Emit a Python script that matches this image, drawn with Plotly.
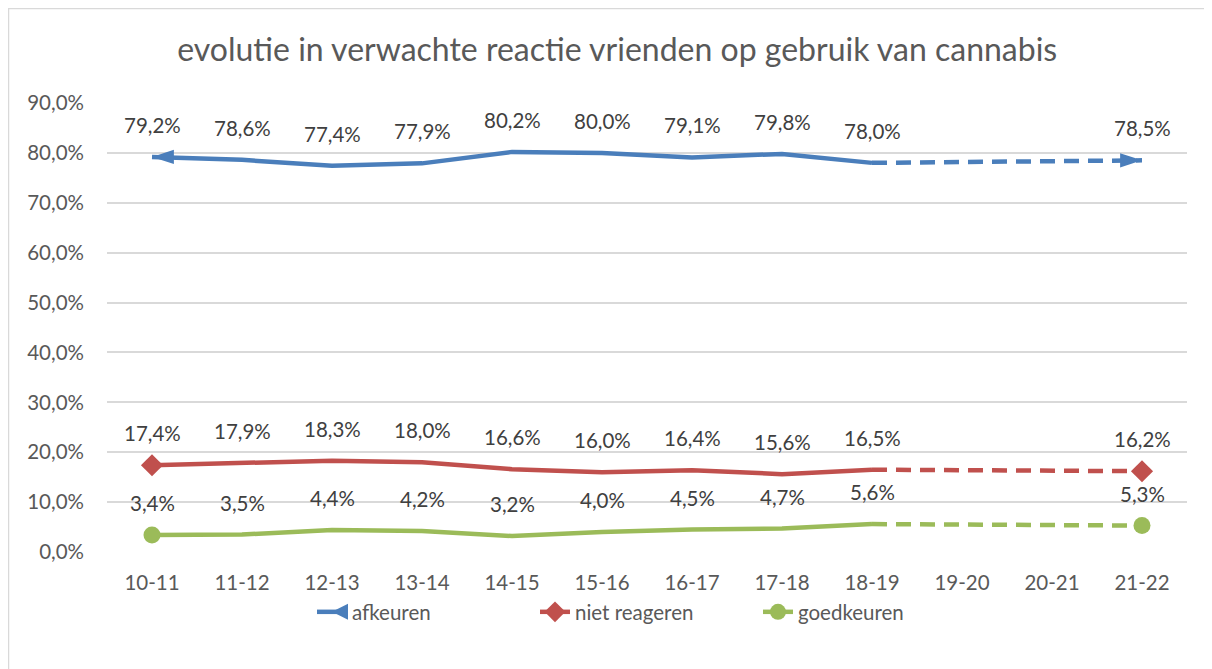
import plotly.graph_objects as go

categories = ["10-11", "11-12", "12-13", "13-14", "14-15", "15-16", "16-17",
              "17-18", "18-19", "19-20", "20-21", "21-22"]
afkeuren = [79.2, 78.6, 77.4, 77.9, 80.2, 80.0, 79.1, 79.8, 78.0, None, None, 78.5]
niet_reageren = [17.4, 17.9, 18.3, 18.0, 16.6, 16.0, 16.4, 15.6, 16.5, None, None, 16.2]
goedkeuren = [3.4, 3.5, 4.4, 4.2, 3.2, 4.0, 4.5, 4.7, 5.6, None, None, 5.3]

series = [
    ("afkeuren", afkeuren, "#4A7EBB", "arrow"),
    ("niet reageren", niet_reageren, "#C0504D", "diamond"),
    ("goedkeuren", goedkeuren, "#9BBB59", "circle"),
]

TEXT = "#595959"
FONT = "Lato"
LAST_SOLID = 8
LW = 4.5

fig = go.Figure()
annotations = []
for name, vals, color, sym in series:
    fig.add_trace(go.Scatter(
        x=categories[:LAST_SOLID + 1], y=vals[:LAST_SOLID + 1], mode="lines",
        line=dict(color=color, width=LW), showlegend=False, hoverinfo="skip"))
    fig.add_trace(go.Scatter(
        x=[categories[LAST_SOLID], categories[-1]], y=[vals[LAST_SOLID], vals[-1]],
        mode="lines", line=dict(color=color, width=LW, dash="15px,9px"),
        showlegend=False, hoverinfo="skip"))
    if sym == "arrow":
        fig.add_trace(go.Scatter(
            x=[categories[0], categories[-1]], y=[vals[0], vals[-1]], mode="markers",
            marker=dict(symbol="arrow", size=23, angle=[-90, 90], color=color,
                        line=dict(width=0)),
            showlegend=False, hoverinfo="skip"))
        legsym = "arrow-left"
        legsize = 17
    else:
        fig.add_trace(go.Scatter(
            x=[categories[0], categories[-1]], y=[vals[0], vals[-1]], mode="markers",
            marker=dict(symbol=sym, size=17, color=color, line=dict(width=0)),
            showlegend=False, hoverinfo="skip"))
        legsym = sym
        legsize = 16
    fig.add_trace(go.Scatter(
        x=[None], y=[None], mode="lines+markers", name=name,
        line=dict(color=color, width=LW),
        marker=dict(symbol=legsym, size=legsize, color=color, line=dict(width=0))))
    for c, v in zip(categories, vals):
        if v is None:
            continue
        annotations.append(dict(
            x=c, y=v, xref="x", yref="y", text=f"{v:.1f}".replace(".", ",") + "%",
            showarrow=False, yshift=32, font=dict(family=FONT, size=20.5, color="#404040")))

W, H = 1204, 661
L, T, PW, PH = 99, 95, 1080, 449
fig.update_layout(
    width=W, height=H,
    margin=dict(l=L, r=W - L - PW, t=T, b=H - T - PH),
    paper_bgcolor="white", plot_bgcolor="white",
    separators=", ",
    title=dict(text="evolutie in verwachte reactie vrienden op gebruik van cannabis",
               x=0.506, xanchor="center", y=1 - 42 / H, yanchor="middle",
               font=dict(family=FONT, size=32, color=TEXT)),
    font=dict(family=FONT, size=20.5, color=TEXT),
    xaxis=dict(type="category", categoryorder="array", categoryarray=categories,
               range=[-0.5, len(categories) - 0.5], autorange=False,
               showgrid=False, zeroline=False, showline=False,
               ticks="", ticklabelstandoff=16,
               tickfont=dict(family=FONT, size=20.5, color=TEXT)),
    yaxis=dict(range=[0, 90], dtick=10, tickformat=".1f", ticksuffix="%",
               showgrid=True, gridcolor="#D9D9D9", gridwidth=1.5,
               zeroline=False, showline=False, ticks="", ticklabelstandoff=22,
               tickfont=dict(family=FONT, size=20.5, color=TEXT)),
    legend=dict(orientation="h", x=(312 - 8 - L) / PW, xanchor="left",
                y=-(612 - 8 - T - PH) / PH, yanchor="middle",
                font=dict(family=FONT, size=20.5, color=TEXT),
                entrywidth=178, entrywidthmode="pixels", tracegroupgap=0),
    annotations=annotations,
    shapes=[dict(type="rect", xref="paper", yref="paper",
                 x0=(0.5 - L) / PW, x1=1.05, y0=-0.3, y1=1 + (T - 0.5) / PH,
                 line=dict(color="#D9D9D9", width=1.5), fillcolor="rgba(0,0,0,0)",
                 layer="below")],
    showlegend=True,
)

fig.write_html("out.html")
